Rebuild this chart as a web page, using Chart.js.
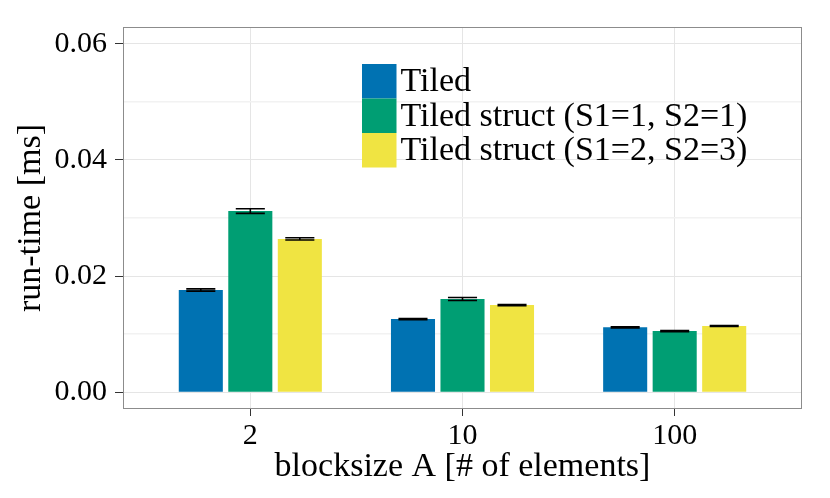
<!DOCTYPE html>
<html>
<head>
<meta charset="utf-8">
<script src="https://cdn.jsdelivr.net/npm/chart.js@4/dist/chart.umd.min.js"></script>
<style>
    html, body { margin: 0; padding: 0; background: #fff; }
    #wrap { width: 830px; height: 498px; }
</style>
</head>
<body>
<div id="wrap"><canvas id="grafico"></canvas></div>
<script>
// blocksize A categories
var categorias = ['2', '10', '100'];
var series = ['Tiled', 'Tiled struct (S1=1, S2=1)', 'Tiled struct (S1=2, S2=3)'];
var colores = ['#0072B2', '#009E73', '#F0E442'];

// run-time [ms]
var tiled = [0.01760, 0.01260, 0.01118];
var tiledStruct11 = [0.03120, 0.01605, 0.01052];
var tiledStruct23 = [0.02640, 0.01500, 0.01138];

// error (half width)
var errTiled = [0.00020, 0.00010, 0.00010];
var errStruct11 = [0.00040, 0.00025, 0.00010];
var errStruct23 = [0.00020, 0.00010, 0.00008];

var yTicks = [0, 0.01, 0.02, 0.03, 0.04, 0.05, 0.06];

var fuente = 'Liberation Serif';

function puntos(valores) {
    return valores.map((v, i) => ({ x: i + 1, y: v }));
}

function esMayor(v) {
    return Math.round(v * 100) % 2 === 0;
}

var errores = [errTiled, errStruct11, errStruct23];

var pluginErrores = {
    id: 'errores',
    afterDatasetsDraw(chart) {
        var ctx = chart.ctx;
        var y = chart.scales.y;
        ctx.save();
        ctx.strokeStyle = '#000';
        ctx.lineWidth = 1.6;
        chart.data.datasets.forEach((ds, d) => {
            var meta = chart.getDatasetMeta(d);
            meta.data.forEach((bar, i) => {
                var v = ds.data[i].y;
                var e = errores[d][i];
                var half = bar.width * 0.33;
                var yTop = y.getPixelForValue(v + e);
                var yBot = y.getPixelForValue(v - e);
                ctx.beginPath();
                ctx.moveTo(bar.x - half, yTop);
                ctx.lineTo(bar.x + half, yTop);
                ctx.moveTo(bar.x - half, yBot);
                ctx.lineTo(bar.x + half, yBot);
                ctx.moveTo(bar.x, yTop);
                ctx.lineTo(bar.x, yBot);
                ctx.stroke();
            });
        });
        ctx.restore();
    }
};

var pluginMarco = {
    id: 'marco',
    afterDraw(chart) {
        var ctx = chart.ctx;
        var a = chart.chartArea;
        ctx.save();
        ctx.strokeStyle = '#8c8c8c';
        ctx.lineWidth = 1;
        ctx.strokeRect(a.left + 0.5, a.top + 0.5, a.right - a.left - 1, a.bottom - a.top - 1);

        // leyenda dentro del panel
        var x0 = a.left + 239;
        var y0 = a.top + 37;
        var lado = 34.5;
        ctx.font = '34px "' + fuente + '"';
        ctx.textBaseline = 'middle';
        ctx.textAlign = 'left';
        chart.data.datasets.forEach((ds, d) => {
            ctx.fillStyle = ds.backgroundColor;
            ctx.fillRect(x0, y0 + d * lado, lado, lado);
            ctx.fillStyle = '#000';
            ctx.fillText(ds.label, x0 + lado + 4, y0 + d * lado + lado / 2 + 1);
        });
        ctx.restore();
    }
};

var datos = [tiled, tiledStruct11, tiledStruct23];

new Chart(document.getElementById('grafico').getContext('2d'), {
    type: 'bar',
    data: {
        datasets: series.map((s, d) => ({
            label: s,
            data: puntos(datos[d]),
            backgroundColor: colores[d],
            borderWidth: 0,
            categoryPercentage: 0.70,
            barPercentage: 0.89
        }))
    },
    options: {
        responsive: true,
        maintainAspectRatio: false,
        animation: false,
        layout: { padding: { top: 27, right: 28, left: 0, bottom: 0 } },
        plugins: {
            legend: { display: false },
            tooltip: { enabled: false }
        },
        scales: {
            x: {
                type: 'linear',
                min: 0.4,
                max: 3.6,
                offset: false,
                afterBuildTicks: scale => {
                    scale.ticks = categorias.map((c, i) => ({ value: i + 1 }));
                },
                afterFit: scale => { scale.height = 89; },
                ticks: {
                    callback: v => categorias[Math.round(v) - 1],
                    color: '#000',
                    font: { family: fuente, size: 30 },
                    padding: 2,
                    maxRotation: 0,
                    autoSkip: false
                },
                grid: {
                    offset: false,
                    color: '#e5e5e5',
                    lineWidth: 1,
                    tickColor: '#333',
                    tickLength: 7
                },
                border: { display: false },
                title: {
                    display: true,
                    text: 'blocksize A [# of elements]',
                    color: '#000',
                    font: { family: fuente, size: 34 },
                    padding: { top: 0, bottom: 11 }
                }
            },
            y: {
                min: -0.0029,
                max: 0.0629,
                afterBuildTicks: scale => {
                    scale.ticks = yTicks.map(v => ({ value: v }));
                },
                afterFit: scale => { scale.width = 123; },
                ticks: {
                    callback: v => esMayor(v) ? v.toFixed(2) : '',
                    color: '#000',
                    font: { family: fuente, size: 30 },
                    padding: 8,
                    autoSkip: false
                },
                grid: {
                    color: c => c.tick && !esMayor(c.tick.value) ? '#f2f2f2' : '#e5e5e5',
                    lineWidth: c => c.tick && !esMayor(c.tick.value) ? 1.5 : 1,
                    tickColor: c => c.tick && !esMayor(c.tick.value) ? 'rgba(0,0,0,0)' : '#333',
                    tickLength: 8
                },
                border: { display: false },
                title: {
                    display: true,
                    text: 'run-time [ms]',
                    color: '#000',
                    font: { family: fuente, size: 34 },
                    padding: { top: 11, bottom: 0 }
                }
            }
        }
    },
    plugins: [pluginErrores, pluginMarco]
});
</script>
</body>
</html>
